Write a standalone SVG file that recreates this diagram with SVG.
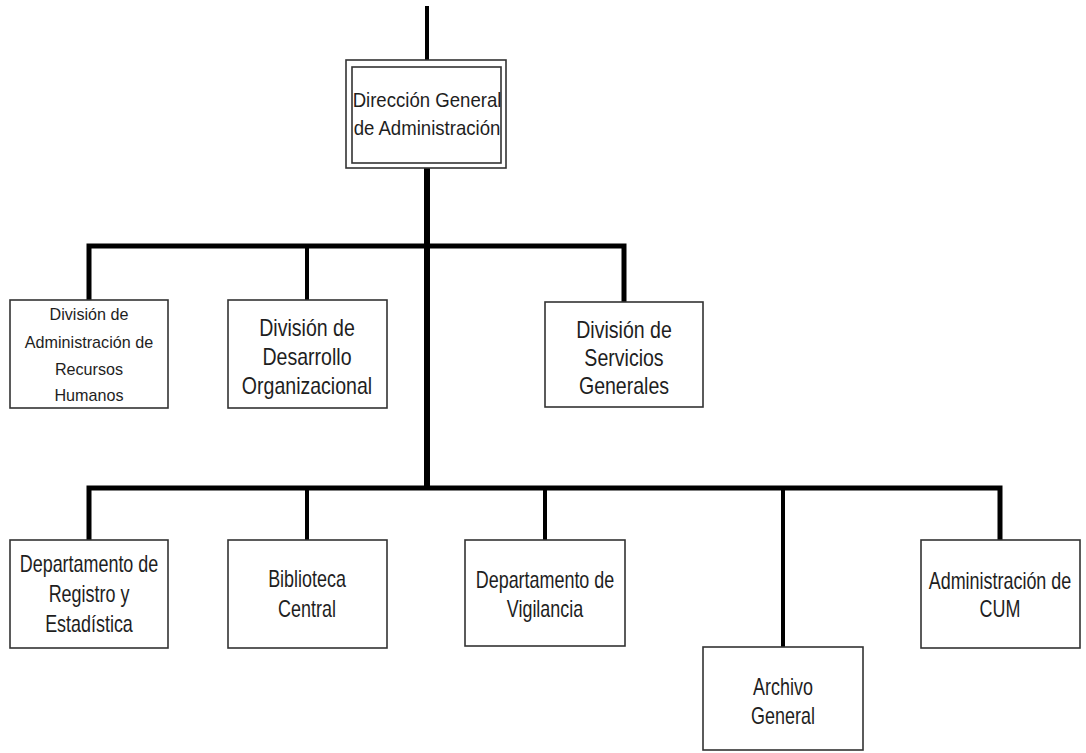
<svg xmlns="http://www.w3.org/2000/svg" width="1086" height="753" viewBox="0 0 1086 753">
  <style>
    .box { fill: #ffffff; stroke: #333333; stroke-width: 1.6; }
    .link { fill: none; stroke: #000000; stroke-linejoin: miter; stroke-linecap: butt; }
    .bar { stroke-width: 5; }
    .drop { stroke-width: 4; }
    .trunk { stroke-width: 6; }
    text { font-family: "Liberation Sans", Arial, sans-serif; fill: #1e1e1e; text-anchor: middle; }
    .t20 { font-size: 20px; }
    .t17 { font-size: 17px; }
    .t23 { font-size: 23px; }
  </style>

  <!-- connectors -->
  <g id="connectors">
    <line class="link drop" x1="427" y1="6" x2="427" y2="60"/>
    <line class="link trunk" x1="427" y1="168" x2="427" y2="490"/>
    <!-- first level: divisions -->
    <path class="link bar" d="M89 300 V246 H624 V302"/>
    <line class="link drop" x1="307" y1="246" x2="307" y2="300"/>
    <!-- second level: departments -->
    <path class="link bar" d="M89 540 V488 H1000 V540"/>
    <line class="link drop" x1="307" y1="488" x2="307" y2="540"/>
    <line class="link drop" x1="545" y1="488" x2="545" y2="540"/>
    <line class="link drop" x1="783" y1="488" x2="783" y2="647"/>
  </g>

  <!-- root -->
  <g id="direccion-general">
    <rect class="box" x="346" y="60" width="160" height="108"/>
    <rect class="box" x="352" y="67" width="149" height="96"/>
    <text class="t20" transform="translate(427 0) scale(0.93 1)" y="107">Dirección General</text>
    <text class="t20" transform="translate(427 0) scale(0.93 1)" y="135">de Administración</text>
  </g>

  <g id="div-recursos-humanos">
    <rect class="box" x="10" y="300" width="158" height="108"/>
    <text class="t17" transform="translate(89 0) scale(0.95 1)" y="320">División de</text>
    <text class="t17" transform="translate(89 0) scale(0.95 1)" y="348">Administración de</text>
    <text class="t17" transform="translate(89 0) scale(0.95 1)" y="375">Recursos</text>
    <text class="t17" transform="translate(89 0) scale(0.95 1)" y="401">Humanos</text>
  </g>

  <g id="div-desarrollo">
    <rect class="box" x="228" y="300" width="159" height="108"/>
    <text class="t23" transform="translate(307 0) scale(0.85 1)" y="336">División de</text>
    <text class="t23" transform="translate(307 0) scale(0.85 1)" y="365">Desarrollo</text>
    <text class="t23" transform="translate(307 0) scale(0.85 1)" y="394">Organizacional</text>
  </g>

  <g id="div-servicios">
    <rect class="box" x="545" y="302" width="158" height="105"/>
    <text class="t23" transform="translate(624 0) scale(0.85 1)" y="338">División de</text>
    <text class="t23" transform="translate(624 0) scale(0.85 1)" y="366">Servicios</text>
    <text class="t23" transform="translate(624 0) scale(0.85 1)" y="394">Generales</text>
  </g>

  <g id="dep-registro">
    <rect class="box" x="10" y="540" width="158" height="108"/>
    <text class="t23" transform="translate(89 0) scale(0.78 1)" y="572">Departamento de</text>
    <text class="t23" transform="translate(89 0) scale(0.78 1)" y="602">Registro y</text>
    <text class="t23" transform="translate(89 0) scale(0.78 1)" y="632">Estadística</text>
  </g>

  <g id="biblioteca">
    <rect class="box" x="228" y="540" width="159" height="108"/>
    <text class="t23" transform="translate(307 0) scale(0.78 1)" y="587">Biblioteca</text>
    <text class="t23" transform="translate(307 0) scale(0.78 1)" y="617">Central</text>
  </g>

  <g id="dep-vigilancia">
    <rect class="box" x="465" y="540" width="160" height="106"/>
    <text class="t23" transform="translate(545 0) scale(0.78 1)" y="588">Departamento de</text>
    <text class="t23" transform="translate(545 0) scale(0.78 1)" y="617">Vigilancia</text>
  </g>

  <g id="archivo">
    <rect class="box" x="703" y="647" width="160" height="103"/>
    <text class="t23" transform="translate(783 0) scale(0.78 1)" y="695">Archivo</text>
    <text class="t23" transform="translate(783 0) scale(0.78 1)" y="724">General</text>
  </g>

  <g id="adm-cum">
    <rect class="box" x="921" y="540" width="159" height="108"/>
    <text class="t23" transform="translate(1000 0) scale(0.78 1)" y="589">Administración de</text>
    <text class="t23" transform="translate(1000 0) scale(0.78 1)" y="617">CUM</text>
  </g>
</svg>
